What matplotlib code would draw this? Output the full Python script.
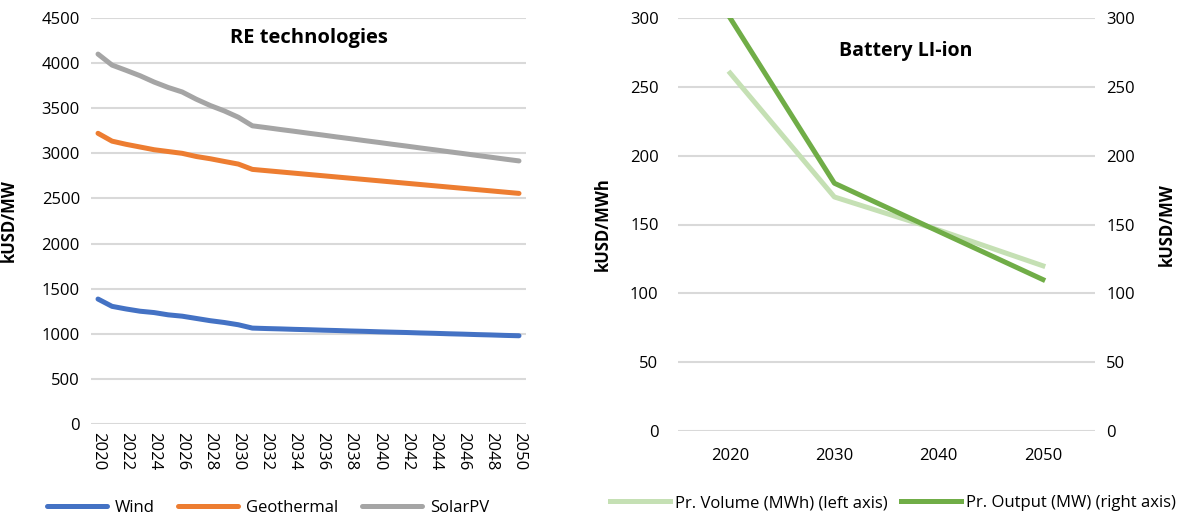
import matplotlib
matplotlib.use("Agg")
import matplotlib.pyplot as plt
import numpy as np

plt.rcParams['font.family'] = ['Open Sans', 'DejaVu Sans']

# RE technologies, kUSD/MW
years = list(range(2020, 2051))
wind = [1385, 1304, 1275, 1250, 1235, 1210, 1195, 1170, 1145, 1125, 1100,
        1063, 1058, 1054, 1049, 1045, 1040, 1036, 1031, 1027, 1022,
        1018, 1014, 1009, 1005, 1000, 996, 991, 987, 982, 978]
geothermal = [3222, 3135, 3100, 3070, 3040, 3020, 3000, 2965, 2940, 2910, 2881,
              2822, 2808, 2794, 2780, 2766, 2752, 2738, 2724, 2710, 2696,
              2682, 2668, 2654, 2640, 2626, 2612, 2598, 2584, 2570, 2556]
solar_pv = [4100, 3978, 3920, 3860, 3790, 3730, 3680, 3600, 3530, 3470, 3400,
            3305, 3285, 3264, 3244, 3223, 3203, 3182, 3162, 3141, 3121,
            3100, 3080, 3059, 3039, 3018, 2998, 2977, 2957, 2936, 2916]

# Battery Li-ion
bat_years = ['2020', '2030', '2040', '2050']
volume_mwh = [260, 170, 146, 120]
output_mw = [300, 180, 145, 110]

grid_col = '#d9d9d9'
fs = 12

fig = plt.figure(figsize=(11.91, 5.16), dpi=100)

# ---- left chart
ax1 = fig.add_axes([91 / 1191, 92 / 516, 435 / 1191, 406 / 516])
xs = np.arange(len(years))
ax1.plot(xs, wind, color='#4472C4', lw=3.6, label='Wind', solid_capstyle='round')
ax1.plot(xs, geothermal, color='#ED7D31', lw=3.6, label='Geothermal', solid_capstyle='round')
ax1.plot(xs, solar_pv, color='#A5A5A5', lw=3.6, label='SolarPV', solid_capstyle='round')
ax1.set_xlim(-0.5, len(years) - 0.5)
ax1.set_ylim(0, 4500)
ax1.set_yticks(range(0, 4501, 500))
ax1.set_xticks(xs[::2])
ax1.set_xticklabels([str(y) for y in years[::2]], rotation=270, fontsize=fs)
ax1.tick_params(axis='y', labelsize=fs, length=0, pad=8)
ax1.tick_params(axis='x', length=0, pad=6)
ax1.grid(axis='y', color=grid_col, lw=1.5)
ax1.set_axisbelow(True)
for s in ax1.spines.values():
    s.set_visible(False)
ax1.set_ylabel('kUSD/MW', fontsize=fs, fontweight='bold')
ax1.yaxis.set_label_coords((18 - 91) / 435, 0.5)
ax1.text(0.5, 0.951, 'RE technologies', transform=ax1.transAxes, ha='center', va='center',
         fontsize=14.5, fontweight='bold')
h1, l1 = ax1.get_legend_handles_labels()
fig.legend(h1, l1, loc='center', bbox_to_anchor=(268 / 1191, 8 / 516), ncol=3,
           frameon=False, fontsize=fs, handlelength=3.6, columnspacing=1.4, handletextpad=0.5,
           borderpad=0.1)

# ---- right chart
ax2 = fig.add_axes([678 / 1191, 85 / 516, 417 / 1191, 413 / 516])
bx = np.arange(len(bat_years))
ax2.plot(bx, volume_mwh, color='#C5E0B4', lw=3.6, label='Pr. Volume (MWh) (left axis)')
ax2.set_xlim(-0.5, len(bat_years) - 0.5)
ax2.set_ylim(0, 300)
ax2.set_yticks(range(0, 301, 50))
ax2.set_xticks(bx)
ax2.set_xticklabels(bat_years, fontsize=fs)
ax2.tick_params(axis='y', labelsize=fs, length=0, pad=14)
ax2.tick_params(axis='x', length=0, pad=12)
ax2.grid(axis='y', color=grid_col, lw=1.5)
ax2.set_axisbelow(True)
for s in ax2.spines.values():
    s.set_visible(False)
ax2.set_ylabel('kUSD/MWh', fontsize=fs, fontweight='bold')
ax2.yaxis.set_label_coords((612 - 678) / 417, 0.5)

ax3 = ax2.twinx()
ax3.plot(bx, output_mw, color='#70AD47', lw=3.6, label='Pr. Output (MW) (right axis)')
ax3.set_ylim(0, 300)
ax3.set_yticks(range(0, 301, 50))
ax3.tick_params(axis='y', labelsize=fs, length=0, pad=8)
for s in ax3.spines.values():
    s.set_visible(False)
ax3.set_ylabel('kUSD/MW', fontsize=fs, fontweight='bold')
ax3.yaxis.set_label_coords((1158 - 678) / 417, 0.5)
ax2.text((906 - 678) / 417, 0.92, 'Battery LI-ion', transform=ax2.transAxes, ha='center',
         va='center', fontsize=14, fontweight='bold')

h2, l2 = ax2.get_legend_handles_labels()
h3, l3 = ax3.get_legend_handles_labels()
fig.legend(h2 + h3, l2 + l3, loc='center', bbox_to_anchor=(893 / 1191, 13 / 516), ncol=2,
           frameon=False, fontsize=fs, handlelength=3.6, columnspacing=0.8, handletextpad=0.3,
           borderpad=0.1)

fig.savefig('out.png', dpi=100)
